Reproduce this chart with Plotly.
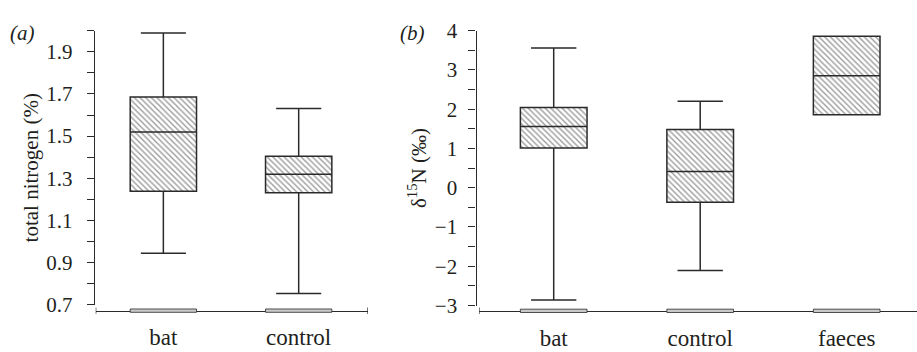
import plotly.graph_objects as go

W, H = 917, 352

# ---- data (panel a: total nitrogen %) ----
cats_a = ["bat", "control"]
a_low = [0.945, 0.754]
a_q1 = [1.239, 1.231]
a_med = [1.519, 1.319]
a_q3 = [1.685, 1.404]
a_high = [1.989, 1.631]
a_ticks = [0.7, 0.9, 1.1, 1.3, 1.5, 1.7, 1.9]
a_minor = [0.8, 1.0, 1.2, 1.4, 1.6, 1.8, 2.0]

# ---- data (panel b: delta 15N permil) ----
cats_b = ["bat", "control", "faeces"]
b_low = [-2.86, -2.11, 1.86]
b_q1 = [1.01, -0.37, 1.86]
b_med = [1.56, 0.41, 2.85]
b_q3 = [2.04, 1.48, 3.86]
b_high = [3.556, 2.20, 3.86]
b_ticks = [-3, -2, -1, 0, 1, 2, 3, 4]
b_minor = [-2.5, -1.5, -0.5, 0.5, 1.5, 2.5, 3.5]

def px(x):
    return x / W

def py(y):
    return 1 - y / H

FONT = "Liberation Serif, Times New Roman, serif"
FS = 21
FSX = 23
INK = "#2a2a2a"
TXT = "#231f20"
LW = 1.5

fig = go.Figure()

def add_panel(cats, low, q1, med, q3, high, bw, xa, ya):
    pos = list(range(len(cats)))
    fig.add_trace(go.Bar(
        x=pos, y=[b - a for a, b in zip(q1, q3)], base=q1, width=bw,
        marker=dict(color="white", line=dict(width=0),
                    pattern=dict(shape="\\", fgcolor="#3a3a3a", bgcolor="white",
                                 size=4, solidity=0.35)),
        xaxis=xa, yaxis=ya, showlegend=False, hoverinfo="skip"))
    fig.add_trace(go.Box(
        x=pos, q1=q1, median=med, q3=q3, lowerfence=low, upperfence=high,
        width=bw, whiskerwidth=0.68, fillcolor="rgba(0,0,0,0)",
        line=dict(color=INK, width=LW), boxpoints=False,
        xaxis=xa, yaxis=ya, showlegend=False))
    return pos

pos_a = add_panel(cats_a, a_low, a_q1, a_med, a_q3, a_high, 0.49, "x", "y")
pos_b = add_panel(cats_b, b_low, b_q1, b_med, b_q3, b_high, 0.455, "x2", "y2")

axcommon = dict(showgrid=False, zeroline=False, showline=True,
                linecolor=INK, linewidth=1.2)
xfont = dict(family=FONT, size=FSX, color=TXT)
yfont = dict(family=FONT, size=FS, color=TXT)

xa_y = py(320.5)
xb_y = py(320.7)

fig.update_layout(
    width=W, height=H,
    margin=dict(l=0, r=0, t=0, b=0),
    paper_bgcolor="white", plot_bgcolor="white",
    bargap=0,
    xaxis=dict(domain=[px(95.7), px(367.7)], range=[-0.5, 1.51],
               anchor="free", position=xa_y, ticklabelstandoff=6,
               tickvals=pos_a, ticktext=cats_a, ticks="", tickfont=xfont,
               **axcommon),
    yaxis=dict(domain=[py(314.3), py(20)], range=[0.7, 2.0],
               anchor="free", position=px(93.7), ticklabelstandoff=10,
               tickvals=a_ticks, tickformat=".1f", ticks="outside", ticklen=7,
               tickcolor=INK, tickwidth=1.2, tickfont=yfont,
               minor=dict(tickvals=a_minor, ticks="outside", ticklen=7,
                          tickcolor=INK, tickwidth=1.2),
               title=dict(text="total nitrogen (%)",
                          font=dict(family=FONT, size=FS, color=TXT),
                          standoff=0),
               **axcommon),
    xaxis2=dict(domain=[px(479), 1.0], range=[-0.51, 2.48],
                anchor="free", position=xb_y, ticklabelstandoff=6,
                tickvals=pos_b, ticktext=cats_b, ticks="", tickfont=xfont,
                **axcommon),
    yaxis2=dict(domain=[py(315), py(20)], range=[-3, 4],
                anchor="free", position=px(475.5), ticklabelstandoff=7,
                tickvals=b_ticks, ticks="outside", ticklen=7,
                tickcolor=INK, tickwidth=1.2, tickfont=yfont,
                minor=dict(tickvals=b_minor, ticks="outside", ticklen=7,
                           tickcolor=INK, tickwidth=1.2),
                title=dict(text="δ<sup>15</sup>N (‰)",
                           font=dict(family=FONT, size=FS, color=TXT),
                           standoff=1),
                **axcommon),
)

shapes = []
# end caps on x axes
for xv, xr, ypos in [(-0.5, "x", xa_y), (1.51, "x", xa_y), (-0.51, "x2", xb_y)]:
    shapes.append(dict(type="line", xref=xr, yref="paper", x0=xv, x1=xv,
                       y0=ypos - 3.5 / H, y1=ypos + 3.5 / H,
                       line=dict(color=INK, width=1.2)))
# flat grey bars on the axis under each category
for pos, bw, xr, ypos in [(pos_a, 0.49, "x", xa_y), (pos_b, 0.455, "x2", xb_y)]:
    for p in pos:
        shapes.append(dict(type="rect", xref=xr, yref="paper",
                           x0=p - bw / 2, x1=p + bw / 2,
                           y0=ypos - 1.8 / H, y1=ypos + 1.8 / H,
                           fillcolor="#c8c8c8", line=dict(color=INK, width=0.8)))
fig.update_layout(shapes=shapes)

fig.add_annotation(text="<i>(a)</i>", x=px(22), y=py(22), xref="paper", yref="paper",
                   xanchor="center", yanchor="middle",
                   showarrow=False, font=dict(family=FONT, size=FS, color=TXT))
fig.add_annotation(text="<i>(b)</i>", x=px(412), y=py(23), xref="paper", yref="paper",
                   xanchor="center", yanchor="middle",
                   showarrow=False, font=dict(family=FONT, size=FS, color=TXT))

fig.write_html("out.html")
